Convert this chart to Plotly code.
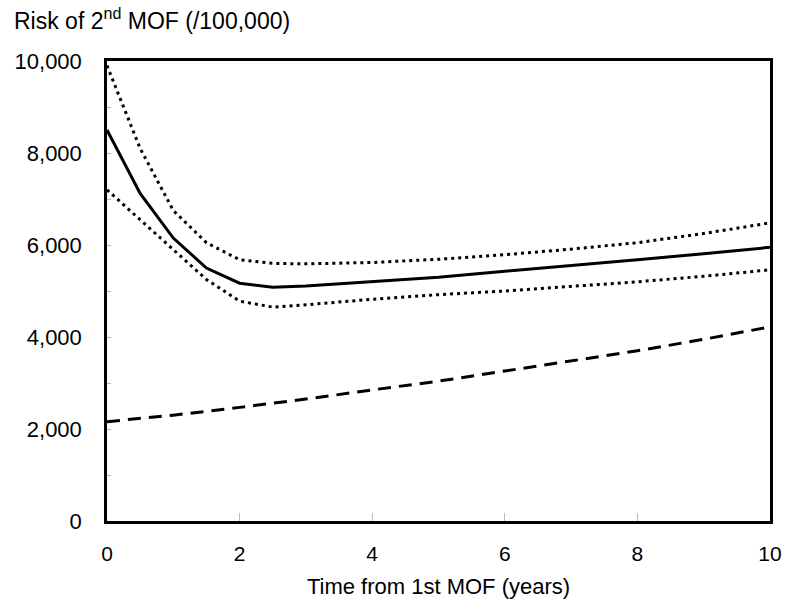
import plotly.graph_objects as go

years_main = [0, 0.5, 1, 1.5, 2, 2.5, 3, 4, 5, 6, 7, 8, 9, 10]
risk_estimate = [8500, 7120, 6150, 5500, 5170, 5080, 5110, 5200, 5300, 5430, 5550, 5680, 5810, 5950]
risk_upper = [9900, 8100, 6750, 6050, 5680, 5600, 5590, 5620, 5690, 5790, 5910, 6050, 6250, 6480]
risk_lower = [7200, 6550, 5900, 5250, 4780, 4650, 4700, 4820, 4920, 5000, 5100, 5200, 5320, 5460]

years_pop = [0, 1, 2, 3, 4, 5, 6, 7, 8, 9, 10]
risk_population = [2160, 2300, 2470, 2650, 2850, 3040, 3260, 3480, 3700, 3950, 4220]

x_ticks = [0, 2, 4, 6, 8, 10]
y_ticks = [0, 2000, 4000, 6000, 8000, 10000]
y_labels = ["0", "2,000", "4,000", "6,000", "8,000", "10,000"]

fig = go.Figure()
fig.add_trace(go.Scatter(x=years_main, y=risk_upper, mode="lines",
                         line=dict(color="black", width=3, dash="3px,4px"), showlegend=False))
fig.add_trace(go.Scatter(x=years_main, y=risk_lower, mode="lines",
                         line=dict(color="black", width=3, dash="3px,4px"), showlegend=False))
fig.add_trace(go.Scatter(x=years_main, y=risk_estimate, mode="lines",
                         line=dict(color="black", width=3), showlegend=False))
fig.add_trace(go.Scatter(x=years_pop, y=risk_population, mode="lines",
                         line=dict(color="black", width=3, dash="13px,8px"), showlegend=False))

fig.update_layout(
    width=800, height=615,
    margin=dict(l=107, r=30, t=61, b=94),
    paper_bgcolor="white", plot_bgcolor="white",
    font=dict(family="Liberation Sans, Arial", size=22, color="black"),
)
fig.update_xaxes(
    range=[0, 10], tickvals=x_ticks, ticks="inside", ticklen=8, tickcolor="#bbbbbb",
    ticklabelstandoff=12,
    showgrid=False, zeroline=False, showline=True, linecolor="black", linewidth=2.5, mirror=True,
    tickfont=dict(family="Liberation Sans, Arial", size=21),
    title=dict(text="Time from 1st MOF (years)", standoff=15,
               font=dict(family="Liberation Sans, Arial", size=22)),
)
fig.update_yaxes(
    range=[0, 10000], tickvals=y_ticks, ticktext=y_labels, ticks="inside", ticklen=4, tickcolor="#bbbbbb",
    ticklabelstandoff=18,
    minor=dict(dtick=1000, ticks="inside", ticklen=4, tickcolor="#bbbbbb"),
    showgrid=False, zeroline=False, showline=True, linecolor="black", linewidth=2.5, mirror=True,
    tickfont=dict(family="Liberation Sans, Arial", size=22),
)
fig.add_annotation(text="Risk of 2<sup>nd</sup> MOF (/100,000)", xref="paper", yref="paper",
                   x=0, y=1, xshift=-95, yshift=25, xanchor="left", yanchor="bottom",
                   showarrow=False, font=dict(family="Liberation Sans, Arial", size=23))

fig.write_html("out.html", post_script="document.body.style.margin='0px';",
               config={"displayModeBar": False})
